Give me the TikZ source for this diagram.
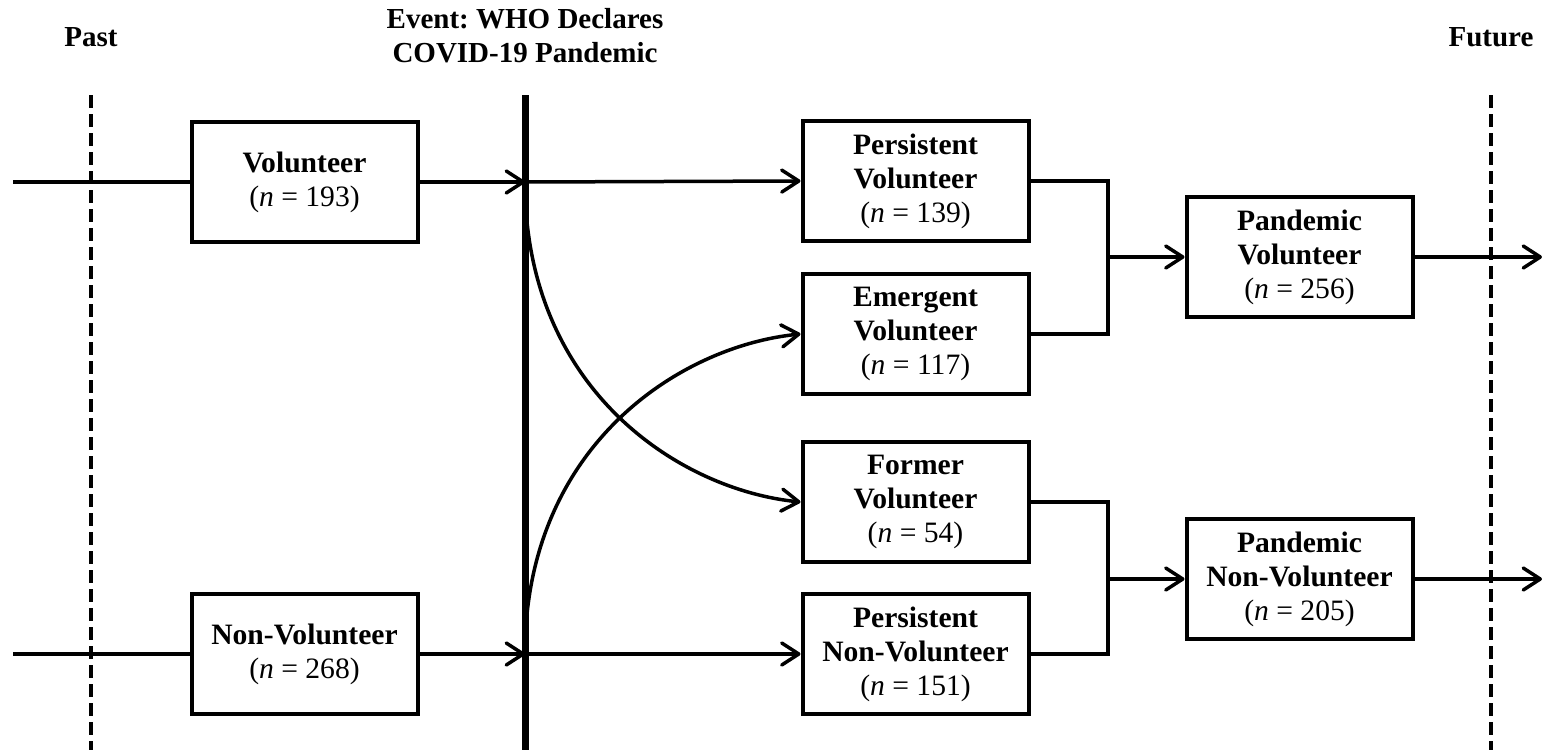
\documentclass[tikz,border=0pt]{standalone}
\usepackage{fontspec}
\setmainfont{Liberation Serif}
\usetikzlibrary{arrows.meta}
\frenchspacing
\begin{document}
\begin{tikzpicture}[x=0.5pt,y=-0.5pt,
 box/.style={draw, line width=2pt, minimum width=113pt, minimum height=60pt, align=center, inner sep=2pt, font=\fontsize{14.8}{17}\selectfont, execute at begin node={\rule{0pt}{13pt}}},
 conn/.style={line width=1.75pt},
 arr/.style={conn, -{Straight Barb[length=8.5pt,width=11pt,round]}},
 ttl/.style={font=\fontsize{14.5}{17}\selectfont\bfseries, anchor=base, inner sep=0pt},
 tline/.style={dash pattern=on 6.5pt off 3pt, line width=2pt},
 eline/.style={line width=3.5pt}]
\useasboundingbox (0,0) rectangle (1542,750);
% titles
\node[ttl] (past) at (91,46) {Past};
\node[ttl] (fut) at (1491,46) {Future};
\node[ttl] (ev1) at (525,28) {Event: WHO Declares};
\node[ttl] (ev2) at (525,62) {COVID-19 Pandemic};
% time lines
\coordinate (lt) at (91,95); \coordinate (lb) at (91,750);
\coordinate (et) at (525,95); \coordinate (eb) at (525,750);
\coordinate (rt) at (1491,95); \coordinate (rb) at (1491,750);
\draw[tline] (lt) -- (lb);
\draw[tline] (rt) -- (rb);
\draw[eline] (et) -- (eb);
% boxes
\node[box] (vol) at (304.5,182) {\textbf{Volunteer}\\(\textit{n} = 193)};
\node[box] (nvol) at (304.5,654) {\textbf{Non-Volunteer}\\(\textit{n} = 268)};
\node[box] (pv) at (915.5,181) {\textbf{Persistent}\\\textbf{Volunteer}\\(\textit{n} = 139)};
\node[box] (emv) at (915.5,334) {\textbf{Emergent}\\\textbf{Volunteer}\\(\textit{n} = 117)};
\node[box] (fv) at (915.5,502) {\textbf{Former}\\\textbf{Volunteer}\\(\textit{n} = 54)};
\node[box] (pnv) at (915.5,654) {\textbf{Persistent}\\\textbf{Non-Volunteer}\\(\textit{n} = 151)};
\node[box] (pdv) at (1299.5,257) {\textbf{Pandemic}\\\textbf{Volunteer}\\(\textit{n} = 256)};
\node[box] (pdnv) at (1299.5,579) {\textbf{Pandemic}\\\textbf{Non-Volunteer}\\(\textit{n} = 205)};
% coordinates
\coordinate (in1) at (13,182);
\coordinate (in2) at (13,654);
\coordinate (e1) at (525,182);
\coordinate (e2) at (525,654);
\coordinate (j1) at (1108,257);
\coordinate (j2) at (1108,579);
\coordinate (o1) at (1542,257);
\coordinate (o2) at (1542,579);
% connectors
\draw[conn] (in1) -- (vol.west);
\draw[conn] (in2) -- (nvol.west);
\draw[arr] (vol.east) -- (e1);
\draw[arr] (nvol.east) -- (e2);
\draw[arr] (e1) -- (pv.west);
\draw[arr] (e2) -- (pnv.west);
\draw[arr] (e1) .. controls (525,390) and (680,490) .. (fv.west);
\draw[arr] (e2) .. controls (525,446) and (680,346) .. (emv.west);
\draw[conn] (pv.east) -| (j1) |- (emv.east);
\draw[conn] (fv.east) -| (j2) |- (pnv.east);
\draw[arr] (j1) -- (pdv.west);
\draw[arr] (j2) -- (pdnv.west);
\draw[arr] (pdv.east) -- (o1);
\draw[arr] (pdnv.east) -- (o2);
\end{tikzpicture}
\end{document}
